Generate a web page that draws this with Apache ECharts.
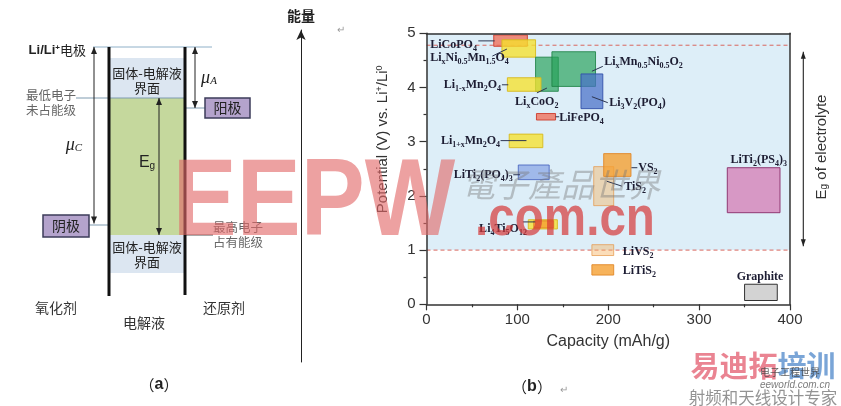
<!DOCTYPE html>
<html>
<head>
<meta charset="utf-8">
<title>Electrolyte window and electrode materials</title>
<script src="https://cdn.jsdelivr.net/npm/echarts@6/dist/echarts.min.js"></script>
<style>
html,body{margin:0;padding:0;background:#fff;}
#chart{width:841px;height:406px;}
</style>
</head>
<body>
<div id="chart"></div>
<script>
// ================= Panel (b) data =================
const capacityTicks = [0, 100, 200, 300, 400];          // mAh/g
const potentialTicks = [0, 1, 2, 3, 4, 5];              // V vs Li+/Li0
const materials = ['LiCoPO4', 'LixNi0.5Mn1.5O4', 'LixCoO2', 'LixMn0.5Ni0.5O2', 'Li3V2(PO4)3',
  'Li1-xMn2O4', 'LiFePO4', 'Li1+xMn2O4', 'LiTi2(PO4)3', 'TiS2', 'VS2', 'Li4Ti5O12',
  'Li4Ti5O12 (core)', 'LiVS2', 'LiTiS2', 'LiTi2(PS4)3', 'Graphite'];
const capLow  = [74, 83, 120, 138, 170, 89, 121, 91, 101, 184, 195, 112, 118, 182, 182, 331, 350];
const capHigh = [111, 120, 145, 186, 194, 126, 142, 128, 135, 206, 225, 144, 140, 206, 206, 389, 386];
const potLow  = [4.76, 4.56, 3.93, 4.02, 3.61, 3.93, 3.40, 2.89, 2.30, 1.82, 2.36, 1.39, 1.41, 0.90, 0.54, 1.69, 0.07];
const potHigh = [4.97, 4.88, 4.56, 4.66, 4.25, 4.18, 3.52, 3.14, 2.57, 2.54, 2.78, 1.56, 1.54, 1.10, 0.73, 2.52, 0.37];
const materialColor = ['red', 'yellow', 'green', 'green', 'blue', 'yellow', 'red', 'yellow', 'lblue',
  'paleor', 'orange', 'yellow', 'orange', 'paleor', 'orange', 'pink', 'grey'];

const electrolyteWindow = [1.0, 4.78];   // V, dashed limits of the electrolyte
const egArrow = [1.07, 4.66];            // V, span of the Eg arrow

// annotation texts (rich text, s = subscript) and anchors in data units
const labelNames = ['LiCoPO{s|4}', 'Li{s|x}Ni{s|0.5}Mn{s|1.5}O{s|4}', 'Li{s|1-x}Mn{s|2}O{s|4}', 'Li{s|x}CoO{s|2}',
  'Li{s|x}Mn{s|0.5}Ni{s|0.5}O{s|2}', 'Li{s|3}V{s|2}(PO{s|4})', 'LiFePO{s|4}', 'Li{s|1+x}Mn{s|2}O{s|4}',
  'LiTi{s|2}(PO{s|4}){s|3}', 'VS{s|2}', 'TiS{s|2}', 'Li{s|4}Ti{s|5}O{s|12}', 'LiVS{s|2}', 'LiTiS{s|2}',
  'LiTi{s|2}(PS{s|4}){s|3}', 'Graphite'];
const labelCap = [55.5, 4, 82, 97.5, 195.5, 201, 146, 81, 95, 233, 217.5, 110.5, 216, 216, 365.5, 367];
const labelPot = [4.79, 4.55, 4.05, 3.74, 4.48, 3.72, 3.44, 3.02, 2.39, 2.52, 2.17, 1.39, 0.96, 0.62, 2.67, 0.51];
const labelAlign = ['right', 'left', 'right', 'left', 'left', 'left', 'left', 'right', 'right', 'left', 'left',
  'right', 'left', 'left', 'center', 'center'];
// leader lines [cap1, pot1, cap2, pot2]
const leaders = [[57, 4.86, 75, 4.86], [72.5, 4.58, 88.5, 4.71], [83, 4.05, 90, 4.05], [121.5, 3.90, 132.5, 3.99],
  [194, 4.39, 182, 4.30], [182, 3.83, 199.5, 3.72], [142, 3.46, 146, 3.46], [81.5, 3.02, 110, 3.02],
  [95.5, 2.39, 103, 2.39], [225.5, 2.52, 232, 2.52], [198.5, 2.27, 215, 2.18], [106, 1.52, 120, 1.52]];

// ================= Panel (a) schematic: energy levels (arbitrary units, up = higher) =================
const E_LI = 315, E_SEI_TOP = 304, E_LUMO = 264, E_ANODE = 254,
      E_CATHODE = 137, E_HOMO = 127, E_SEI_BOT = 89, E_WALL_BOT = 66;

// ================= styles =================
const SANS = "'Liberation Sans', Arial, Helvetica, sans-serif";
const SERIF = "'Liberation Serif', 'Times New Roman', serif";
const CJK = "'Noto Sans CJK SC', 'Noto Sans', sans-serif";
const LABEL_INK = '#1d1d33';
const palette = {
  red:    { fill: 'rgba(240,112,88,0.78)',  stroke: 'rgba(205,60,45,0.9)' },
  yellow: { fill: 'rgba(246,226,45,0.78)',  stroke: 'rgba(215,185,30,0.9)' },
  green:  { fill: 'rgba(38,160,88,0.68)',   stroke: 'rgba(30,130,70,0.85)' },
  blue:   { fill: 'rgba(72,112,200,0.72)',  stroke: 'rgba(50,80,170,0.9)' },
  lblue:  { fill: 'rgba(120,150,225,0.6)',  stroke: 'rgba(70,100,190,0.85)' },
  orange: { fill: 'rgba(245,160,50,0.8)',   stroke: 'rgba(225,135,40,0.9)' },
  paleor: { fill: 'rgba(246,180,100,0.45)', stroke: 'rgba(230,150,70,0.7)' },
  pink:   { fill: 'rgba(214,146,194,0.95)', stroke: 'rgba(140,50,110,0.95)' },
  grey:   { fill: '#d3d3d3', stroke: '#333333' }
};
const subRich = { s: { fontSize: 8, fontFamily: SERIF, fontWeight: 'bold', fill: LABEL_INK, verticalAlign: 'bottom', lineHeight: 8 } };

const chart = echarts.init(document.getElementById('chart'), null, { renderer: 'canvas', width: 841, height: 406 });

function rectFromCoords(a, b) {
  return { x: Math.min(a[0], b[0]), y: Math.min(a[1], b[1]), width: Math.abs(b[0] - a[0]), height: Math.abs(b[1] - a[1]) };
}

// ---- panel (a) drawing through grid 1 axes ----
function renderSchematic(params, api) {
  const P = (x, e) => api.coord([x, e]);
  const kids = [];
  const rect = (x0, e0, x1, e1, style) => kids.push({ type: 'rect', shape: rectFromCoords(P(x0, e0), P(x1, e1)), style });
  const seg = (x0, e0, x1, e1, stroke, w) => {
    const a = P(x0, e0), b = P(x1, e1);
    kids.push({ type: 'line', shape: { x1: a[0], y1: a[1], x2: b[0], y2: b[1] }, style: { stroke, lineWidth: w || 1 } });
  };
  const head = (x, e, dir) => {
    const t = P(x, e);
    kids.push({ type: 'polygon', shape: { points: [[t[0], t[1]], [t[0] - 3, t[1] - dir * 7], [t[0] + 3, t[1] - dir * 7]] }, style: { fill: '#222' } });
  };
  const dArrow = (x, eTop, eBot) => { seg(x, eTop, x, eBot, '#222', 1); head(x, eTop, -1); head(x, eBot, 1); };
  const txt = (x, e, text, extra) => {
    const p = P(x, e);
    kids.push({ type: 'text', x: p[0], y: p[1], style: Object.assign({ text, align: 'center', verticalAlign: 'middle', fontFamily: CJK, fontSize: 13, fill: '#222' }, extra || {}) });
  };

  rect(109, E_SEI_TOP, 185, E_LUMO, { fill: '#dce6f1' });
  rect(109, E_LUMO, 185, E_HOMO, { fill: '#c5d89d' });
  rect(109, E_HOMO, 185, E_SEI_BOT, { fill: '#dce6f1' });
  seg(93, E_LI, 212, E_LI, '#8fb0c8', 1);
  seg(76, E_LUMO, 185, E_LUMO, '#7f9bb0', 1);
  seg(185, E_HOMO, 213, E_HOMO, '#555', 1);
  seg(89, E_CATHODE, 109, E_CATHODE, '#7f9bb0', 1);
  seg(185, E_ANODE, 205, E_ANODE, '#7f9bb0', 1);
  seg(109, E_LI, 109, E_WALL_BOT, '#111', 3);
  seg(185, E_LI, 185, E_WALL_BOT + 1, '#111', 3);
  dArrow(94, E_LI, E_CATHODE + 1.5);
  dArrow(195, E_LI, E_ANODE);
  dArrow(159, E_LUMO, E_HOMO);
  rect(43, 147, 89, 125, { fill: '#b4a3cc', stroke: '#3c3c5a', lineWidth: 1.5 });
  rect(205, 264, 250, 244, { fill: '#b4a3cc', stroke: '#3c3c5a', lineWidth: 1.5 });

  txt(86, 312, '{b|Li/Li}{p|+}{c|电极}', { align: 'right', rich: {
    b: { fontFamily: SANS, fontWeight: 'bold', fontSize: 13, fill: '#222' },
    p: { fontFamily: SANS, fontWeight: 'bold', fontSize: 8, fill: '#222', verticalAlign: 'top', lineHeight: 8 },
    c: { fontFamily: CJK, fontSize: 13, fill: '#222' } } });
  txt(51, 267, '最低电子', { fill: '#666', fontSize: 12.5 });
  txt(51, 252, '未占能级', { fill: '#666', fontSize: 12.5 });
  txt(74, 217, '{m|μ}{s|C}', { rich: {
    m: { fontFamily: SERIF, fontStyle: 'italic', fontSize: 18, fill: '#222' },
    s: { fontFamily: SERIF, fontStyle: 'italic', fontSize: 11, fill: '#222', verticalAlign: 'bottom', lineHeight: 10 } } });
  txt(209, 284, '{m|μ}{s|A}', { rich: {
    m: { fontFamily: SERIF, fontStyle: 'italic', fontSize: 18, fill: '#222' },
    s: { fontFamily: SERIF, fontStyle: 'italic', fontSize: 11, fill: '#222', verticalAlign: 'bottom', lineHeight: 10 } } });
  txt(147, 289, '固体-电解液');
  txt(147, 274, '界面');
  txt(147, 199, '{e|E}{g|g}', { rich: {
    e: { fontFamily: SANS, fontSize: 16, fill: '#222' },
    g: { fontFamily: SANS, fontSize: 10, fill: '#222', verticalAlign: 'bottom', lineHeight: 10 } } });
  txt(147, 115, '固体-电解液');
  txt(147, 100, '界面');
  txt(227.5, 254, '阳极', { fontSize: 14 });
  txt(66, 136, '阴极', { fontSize: 14 });
  txt(238, 135, '最高电子', { fill: '#666', fontSize: 12.5 });
  txt(238, 120, '占有能级', { fill: '#666', fontSize: 12.5 });
  txt(56, 54, '氧化剂', { fontSize: 14, fill: '#333' });
  txt(224, 54, '还原剂', { fontSize: 14, fill: '#333' });
  txt(144, 39, '电解液', { fontSize: 14, fill: '#333' });
  txt(159, -23, '（{b|a}）', { fontSize: 15, fill: '#222', rich: { b: { fontFamily: SANS, fontWeight: 'bold', fontSize: 16, fill: '#222' } } });
  return { type: 'group', children: kids };
}

// ---- panel (b) renderers ----
function renderWindow(params, api) {
  const x0 = api.value(0), x1 = api.value(1), lo = api.value(2), hi = api.value(3), top = api.value(4);
  const a = api.coord([x0, lo]), b = api.coord([x1, top]);
  const l1 = api.coord([x0, hi]), l2 = api.coord([x1, hi]);
  return { type: 'group', children: [
    { type: 'rect', shape: rectFromCoords(a, b), style: { fill: '#ddeef8' } },
    { type: 'line', shape: { x1: a[0], y1: a[1], x2: b[0], y2: a[1] }, style: { stroke: '#d8675f', lineWidth: 1, lineDash: [4, 3] } },
    { type: 'line', shape: { x1: l1[0], y1: l1[1], x2: l2[0], y2: l2[1] }, style: { stroke: '#d8675f', lineWidth: 1, lineDash: [4, 3] } }
  ] };
}
function renderMaterial(params, api) {
  const c = palette[materialColor[params.dataIndex]];
  const a = api.coord([api.value(0), api.value(3)]);
  const b = api.coord([api.value(1), api.value(2)]);
  return { type: 'rect', shape: rectFromCoords(a, b), style: { fill: c.fill, stroke: c.stroke, lineWidth: 1 } };
}
function renderLeader(params, api) {
  const a = api.coord([api.value(0), api.value(1)]);
  const b = api.coord([api.value(2), api.value(3)]);
  return { type: 'line', shape: { x1: a[0], y1: a[1], x2: b[0], y2: b[1] }, style: { stroke: '#2c3550', lineWidth: 1 } };
}
function renderLabel(params, api) {
  const i = params.dataIndex;
  const p = api.coord([api.value(0), api.value(1)]);
  return { type: 'text', x: p[0], y: p[1], style: {
    text: labelNames[i], align: labelAlign[i], verticalAlign: 'middle',
    fontFamily: SERIF, fontWeight: 'bold', fontSize: 12, lineHeight: 16, fill: LABEL_INK, rich: subRich } };
}
function renderEgArrow(params, api) {
  const lo = api.coord([api.value(0), api.value(1)]);
  const hi = api.coord([api.value(0), api.value(2)]);
  const x = lo[0] + 13.3;
  return { type: 'group', children: [
    { type: 'line', shape: { x1: x, y1: hi[1], x2: x, y2: lo[1] }, style: { stroke: '#222', lineWidth: 1.1 } },
    { type: 'polygon', shape: { points: [[x, hi[1]], [x - 2.5, hi[1] + 7], [x + 2.5, hi[1] + 7]] }, style: { fill: '#222' } },
    { type: 'polygon', shape: { points: [[x, lo[1]], [x - 2.5, lo[1] - 7], [x + 2.5, lo[1] - 7]] }, style: { fill: '#222' } }
  ] };
}

const axisTxt = { fontFamily: SANS, fontSize: 15, color: '#333' };
const frameLine = { onZero: false, lineStyle: { color: '#333', width: 1.5 } };
const capMax = capacityTicks[capacityTicks.length - 1];
const potMax = potentialTicks[potentialTicks.length - 1];

const option = {
  animation: false,
  backgroundColor: '#ffffff',
  grid: [
    { left: 426.5, right: 51, top: 33.3, bottom: 101.7 },
    { left: 0, width: 301, top: 30, height: 332 }
  ],
  xAxis: [
    { gridIndex: 0, type: 'value', min: capacityTicks[0], max: capMax, interval: 100, position: 'bottom',
      name: 'Capacity (mAh/g)', nameLocation: 'middle', nameGap: 29,
      nameTextStyle: { fontFamily: SANS, fontSize: 16, color: '#333' },
      axisLine: frameLine, axisTick: { length: 6, lineStyle: { color: '#333', width: 1.2 } },
      minorTick: { show: true, splitNumber: 2, length: 3, lineStyle: { color: '#333', width: 1.2 } },
      axisLabel: Object.assign({ margin: 8 }, axisTxt), splitLine: { show: false }, z: 10 },
    { gridIndex: 0, type: 'value', min: capacityTicks[0], max: capMax, position: 'top',
      axisLine: frameLine, axisTick: { show: false }, axisLabel: { show: false }, splitLine: { show: false }, z: 10 },
    { gridIndex: 1, type: 'value', min: 0, max: 301, show: false }
  ],
  yAxis: [
    { gridIndex: 0, type: 'value', min: potentialTicks[0], max: potMax, interval: 1, position: 'left',
      name: 'Potential (V) vs. Li{p|+}/Li{p|0}', nameLocation: 'middle', nameGap: 36,
      nameTextStyle: { fontFamily: SANS, fontSize: 15, color: '#333', padding: [0, 0, 0, 59],
        rich: { p: { fontFamily: SANS, fontSize: 9, color: '#333', verticalAlign: 'top', lineHeight: 8 } } },
      axisLine: frameLine, axisTick: { length: 7, lineStyle: { color: '#333', width: 1.2 } },
      minorTick: { show: true, splitNumber: 2, length: 3, lineStyle: { color: '#333', width: 1.2 } },
      axisLabel: Object.assign({ margin: 11 }, axisTxt), splitLine: { show: false }, z: 10 },
    { gridIndex: 0, type: 'value', min: potentialTicks[0], max: potMax, position: 'right',
      axisLine: frameLine, axisTick: { show: false }, axisLabel: { show: false }, splitLine: { show: false }, z: 10 },
    { gridIndex: 1, type: 'value', min: 0, max: 332, position: 'right',
      axisLine: { show: true, onZero: false, symbol: ['none', 'arrow'], symbolSize: [7, 10], lineStyle: { color: '#222', width: 1 } },
      axisTick: { show: false }, axisLabel: { show: false }, splitLine: { show: false },
      name: '能量', nameLocation: 'end', nameGap: 7,
      nameTextStyle: { fontFamily: CJK, fontSize: 14, fontWeight: 'bold', color: '#222', align: 'center' } }
  ],
  series: [
    { type: 'custom', name: 'electrolyte window', xAxisIndex: 0, yAxisIndex: 0, z: 1, silent: true, clip: false,
      renderItem: renderWindow, data: [[capacityTicks[0], capMax, electrolyteWindow[0], electrolyteWindow[1], potMax]] },
    { type: 'custom', name: 'materials', xAxisIndex: 0, yAxisIndex: 0, z: 2, silent: true,
      encode: { x: [0, 1], y: [2, 3] }, renderItem: renderMaterial,
      data: materials.map((m, i) => [capLow[i], capHigh[i], potLow[i], potHigh[i]]) },
    { type: 'custom', name: 'leaders', xAxisIndex: 0, yAxisIndex: 0, z: 3, silent: true, renderItem: renderLeader,
      data: leaders },
    { type: 'custom', name: 'labels', xAxisIndex: 0, yAxisIndex: 0, z: 4, silent: true, clip: false, renderItem: renderLabel,
      data: labelNames.map((n, i) => [labelCap[i], labelPot[i]]) },
    { type: 'custom', name: 'Eg arrow', xAxisIndex: 0, yAxisIndex: 0, z: 4, silent: true, clip: false, renderItem: renderEgArrow,
      data: [[capMax, egArrow[0], egArrow[1]]] },
    { type: 'custom', name: 'schematic', xAxisIndex: 2, yAxisIndex: 2, z: 2, silent: true, clip: false,
      renderItem: renderSchematic, data: [[0, 0]] }
  ],
  graphic: [
    { type: 'text', x: 822, y: 147, rotation: Math.PI / 2, z: 20, silent: true,
      style: { text: 'E{g|g} of electrolyte', align: 'center', verticalAlign: 'middle', fontFamily: SANS, fontSize: 15, fill: '#333',
        rich: { g: { fontFamily: SANS, fontSize: 10, fill: '#333', verticalAlign: 'bottom', lineHeight: 9 } } } },
    { type: 'text', x: 532, y: 387, z: 20, silent: true,
      style: { text: '（{b|b}）', align: 'center', verticalAlign: 'middle', fontFamily: CJK, fontSize: 15, fill: '#222',
        rich: { b: { fontFamily: SANS, fontWeight: 'bold', fontSize: 16, fill: '#222' } } } },
    { type: 'text', x: 564, y: 390, z: 20, silent: true, style: { text: '↵', fontFamily: SANS, fontSize: 10, fill: '#999', align: 'center', verticalAlign: 'middle' } },
    { type: 'text', x: 341, y: 30, z: 20, silent: true, style: { text: '↵', fontFamily: SANS, fontSize: 10, fill: '#999', align: 'center', verticalAlign: 'middle' } },
    // watermarks
    { type: 'text', x: 314, y: 205, scaleX: 0.88, z: 100, silent: true,
      style: { text: 'EEPW', align: 'center', verticalAlign: 'middle', fontFamily: SANS, fontWeight: 'bold', fontSize: 109, fill: 'rgba(226,104,104,0.62)' } },
    { type: 'text', x: 561, y: 184, z: 100, silent: true,
      style: { text: '電子產品世界', align: 'center', verticalAlign: 'middle', fontFamily: "'Noto Sans CJK TC', sans-serif", fontStyle: 'italic', fontSize: 33, fill: 'rgba(120,120,120,0.42)' } },
    { type: 'text', x: 565, y: 220, scaleX: 0.85, z: 100, silent: true,
      style: { text: '.com.cn', align: 'center', verticalAlign: 'middle', fontFamily: SANS, fontWeight: 'bold', fontSize: 56, fill: 'rgba(214,56,56,0.7)' } },
    { type: 'text', x: 763, y: 366, z: 100, silent: true,
      style: { text: '{r|易迪拓}{u|培训}', align: 'center', verticalAlign: 'middle', fontFamily: CJK, fontWeight: 'bold', fontSize: 29,
        rich: { r: { fontFamily: CJK, fontWeight: 'bold', fontSize: 29, fill: 'rgba(226,84,104,0.72)' },
                u: { fontFamily: CJK, fontWeight: 'bold', fontSize: 29, fill: 'rgba(70,130,200,0.72)' } } } },
    { type: 'text', x: 790, y: 372, z: 101, silent: true,
      style: { text: '电子工程世界', align: 'center', verticalAlign: 'middle', fontFamily: CJK, fontSize: 10, fill: 'rgba(60,60,60,0.8)' } },
    { type: 'text', x: 795, y: 385, z: 101, silent: true,
      style: { text: 'eeworld.com.cn', align: 'center', verticalAlign: 'middle', fontFamily: SANS, fontStyle: 'italic', fontSize: 10, fill: 'rgba(90,90,90,0.8)' } },
    { type: 'text', x: 763, y: 398, z: 100, silent: true,
      style: { text: '射频和天线设计专家', align: 'center', verticalAlign: 'middle', fontFamily: CJK, fontSize: 16.5, fill: 'rgba(120,120,120,0.8)' } }
  ]
};
chart.setOption(option);
</script>
</body>
</html>
